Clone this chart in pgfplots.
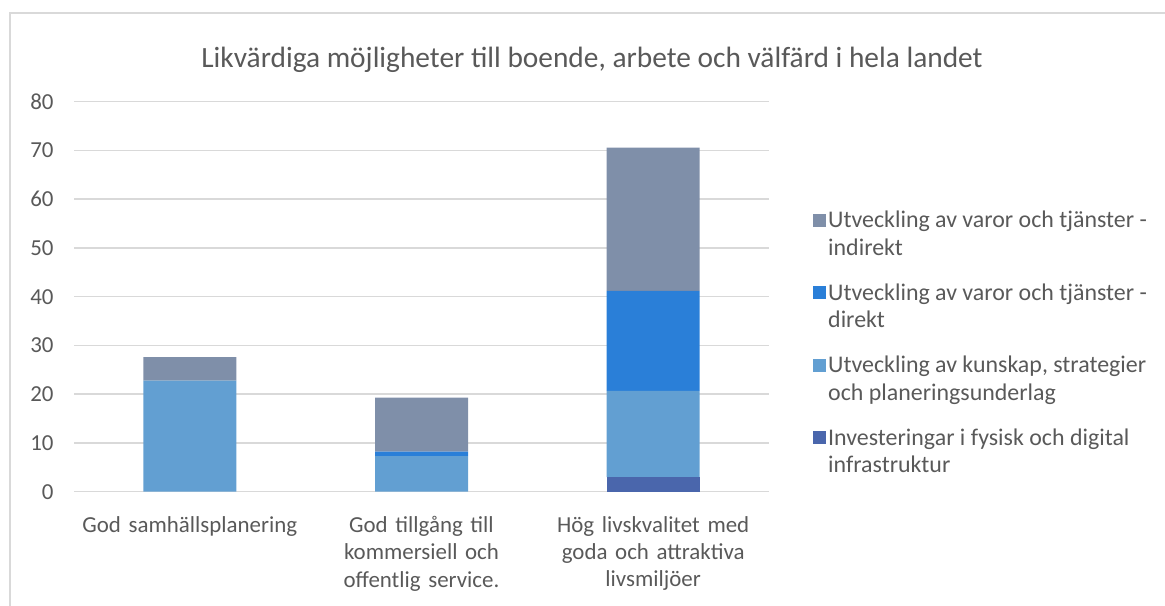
\documentclass[border=0pt]{standalone}
\usepackage{pgfplots}
\pgfplotsset{compat=1.18}
\usepackage{fontspec}
\setmainfont{Carlito}
\definecolor{cgray}{HTML}{7F8FA9}
\definecolor{cdir}{HTML}{2A7FD8}
\definecolor{ckun}{HTML}{629FD2}
\definecolor{cinv}{HTML}{4A66AC}
\definecolor{gridc}{HTML}{D9D9D9}
\definecolor{txt}{HTML}{595959}
\begin{document}
\begin{tikzpicture}
\useasboundingbox (0,0) rectangle (1165bp,606bp);
\draw[gridc, line width=1.2bp] (10bp,-2bp) -- (10bp,593bp) -- (1167bp,593bp);
\node[txt, font=\fontsize{29.5}{33}\selectfont] at (592bp,546bp) {Likvärdiga möjligheter till boende, arbete och välfärd i hela landet};
\begin{axis}[at={(74bp,114.3bp)}, anchor=south west, scale only axis,
  width=695bp, height=390bp,
  ybar stacked, bar width=93bp,
  xmin=-0.5, xmax=2.5, ymin=0, ymax=80, ytick={0,10,...,80},
  xtick={0,1,2},
  xticklabels={God samhällsplanering, God tillgång till\\kommersiell och\\offentlig service., Hög livskvalitet med\\goda och attraktiva\\livsmiljöer},
  axis line style={draw=none}, major tick length=0pt,
  ymajorgrids, grid style={gridc, line width=1.5bp},
  tick label style={txt, font=\fontsize{23}{27.5}\selectfont},
  /pgf/number format/assume math mode=true,
  yticklabel style={xshift=-17bp},
  xticklabel style={align=center, text width=240bp, yshift=-21bp},
  legend style={at={(1.059,0.73)}, anchor=north west, draw=none, fill=none,
    font=\fontsize{24}{27.5}\selectfont, text=txt,
    cells={anchor=west, align=left}, row sep=23bp},
  reverse legend,
  legend image code/.code={\fill[#1] (0bp,7bp) rectangle (13bp,20bp);},
  every axis plot/.append style={draw=none},
]
\addplot[fill=cinv] coordinates {(0,0) (1,0) (2,3.0)};
\addplot[fill=ckun] coordinates {(0,22.8) (1,7.3) (2,17.7)};
\addplot[fill=cdir] coordinates {(0,0) (1,0.9) (2,20.5)};
\addplot[fill=cgray] coordinates {(0,4.8) (1,11.1) (2,29.4)};
\legend{{Investeringar i fysisk och digital\\infrastruktur}, {Utveckling av kunskap, strategier\\och planeringsunderlag}, {Utveckling av varor och tjänster -\\direkt}, {Utveckling av varor och tjänster -\\indirekt}}
\end{axis}
\end{tikzpicture}
\end{document}
